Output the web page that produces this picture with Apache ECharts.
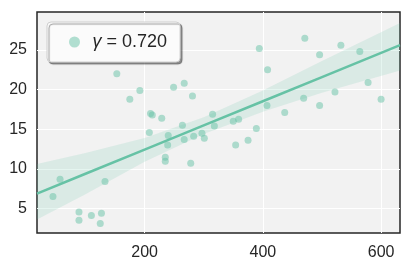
<!DOCTYPE html>
<html>
<head>
<meta charset="utf-8">
<script src="https://cdn.jsdelivr.net/npm/echarts@6/dist/echarts.min.js"></script>
<style>
  html, body { margin: 0; padding: 0; background: #fff; }
  #chart { width: 412px; height: 268px; }
</style>
</head>
<body>
<div id="chart"></div>
<script>
// scatter points
const xs = [45, 57, 89, 89, 110, 125, 127, 133, 153, 175, 192, 208, 210, 213, 229, 235, 235, 239,
  240, 249, 264, 267, 267, 278, 281, 283, 297, 301, 315, 318, 350, 354, 359, 375, 389, 394,
  407, 408, 437, 469, 471, 496, 496, 522, 532, 564, 578, 600];
const ys = [6.5, 8.7, 4.55, 3.5, 4.1, 3.1, 4.4, 8.4, 22.0, 18.8, 19.9, 14.6, 17.0, 16.8, 16.4, 10.95, 11.45, 13.0,
  14.2, 20.3, 15.5, 20.8, 13.7, 10.7, 19.2, 14.1, 14.5, 13.85, 16.9, 15.4, 16.0, 13.0, 16.25, 13.6, 15.1, 25.2,
  18.0, 22.5, 17.1, 18.9, 26.5, 24.4, 18.0, 19.7, 25.6, 24.8, 20.9, 18.8];

// fitted line and confidence band
const fitX = [18, 100, 200, 300, 400, 500, 632];
const fitY = [6.88, 9.38, 12.43, 15.48, 18.53, 21.58, 25.61];
const bandLo = [3.6, 6.8, 10.9, 14.4, 17.2, 19.6, 22.4];
const bandHi = [10.6, 12.0, 13.9, 16.5, 19.9, 23.6, 28.4];

const xTicks = [200, 400, 600];
const yTicks = [5, 10, 15, 20, 25];
const legendName = 'γ = 0.720';

const green = '#66c2a5';
const textColor = '#262626';
const font = '"Liberation Sans", Arial, sans-serif';

const chart = echarts.init(document.getElementById('chart'));

chart.setOption({
  animation: false,
  textStyle: { fontFamily: font },
  grid: {
    left: 37, right: 12, top: 12, bottom: 35,
    show: true,
    backgroundColor: '#f2f2f2',
    borderColor: '#262626',
    borderWidth: 1.5
  },
  legend: {
    left: 47, top: 22,
    padding: [11, 13, 11, 22],
    itemWidth: 26, itemHeight: 11,
    icon: 'circle',
    backgroundColor: '#fbfbfb',
    borderColor: '#cfcfcf',
    borderWidth: 1,
    borderRadius: 4,
    shadowColor: 'rgba(0,0,0,0.4)',
    shadowBlur: 1,
    shadowOffsetX: 2,
    shadowOffsetY: 2,
    data: [legendName],
    formatter: () => '{i|γ} = 0.720',
    textStyle: {
      color: textColor, fontSize: 18, fontFamily: font,
      rich: { i: { fontStyle: 'italic', fontSize: 18, fontFamily: font, color: textColor } }
    }
  },
  xAxis: {
    type: 'value',
    min: 18, max: 632,
    axisLine: { show: false },
    axisTick: { show: false, customValues: xTicks },
    axisLabel: { customValues: xTicks, color: textColor, fontSize: 16, margin: 12, fontFamily: font },
    splitLine: { show: true, lineStyle: { color: '#ffffff', width: 1 } }
  },
  yAxis: {
    type: 'value',
    min: 1.9, max: 29.8,
    axisLine: { show: false },
    axisTick: { show: false, customValues: yTicks },
    axisLabel: { customValues: yTicks, color: textColor, fontSize: 16, margin: 10, fontFamily: font },
    splitLine: { show: true, lineStyle: { color: '#ffffff', width: 1 } }
  },
  series: [
    {
      type: 'custom',
      z: 2,
      silent: true,
      data: [0],
      renderItem: function (params, api) {
        const pts = [];
        for (let i = 0; i < fitX.length; i++) pts.push(api.coord([fitX[i], bandHi[i]]));
        for (let i = fitX.length - 1; i >= 0; i--) pts.push(api.coord([fitX[i], bandLo[i]]));
        return {
          type: 'polygon',
          shape: { points: pts },
          style: { fill: green, opacity: 0.17 }
        };
      }
    },
    {
      type: 'line',
      z: 3,
      silent: true,
      data: fitX.map((x, i) => [x, fitY[i]]),
      showSymbol: false,
      lineStyle: { color: green, width: 2.5 }
    },
    {
      name: legendName,
      type: 'scatter',
      z: 4,
      data: xs.map((x, i) => [x, ys[i]]),
      symbolSize: 7,
      itemStyle: { color: green, opacity: 0.5 }
    }
  ]
});
</script>
</body>
</html>
